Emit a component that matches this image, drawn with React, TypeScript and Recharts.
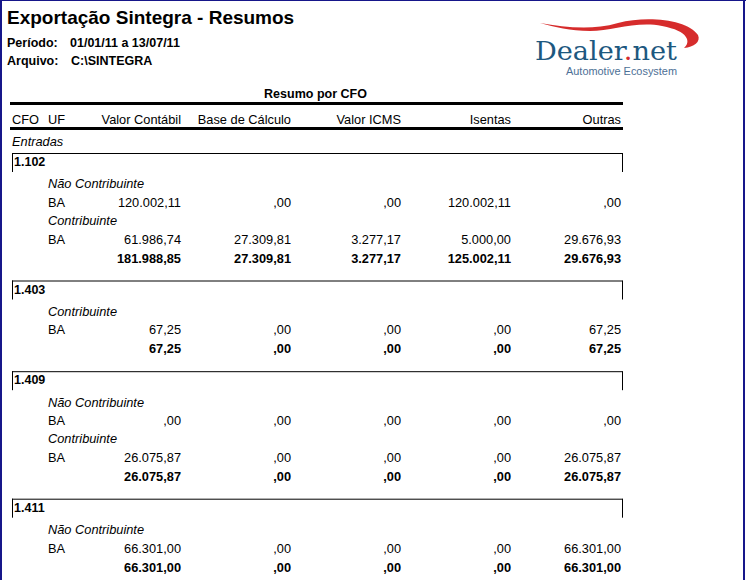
import React from "react";
import { ScatterChart, Scatter, XAxis, YAxis, ReferenceLine, Customized } from "recharts";

// report header
const title = "Exportação Sintegra - Resumos";
const periodo = "01/01/11 a 13/07/11";
const arquivo = "C:\\SINTEGRA";
const sectionTitle = "Resumo por CFO";
const entradaLabel = "Entradas";

// table
const columns = ["CFO", "UF", "Valor Contábil", "Base de Cálculo", "Valor ICMS", "Isentas", "Outras"];
const cfoCodes = ["1.102", "1.403", "1.409", "1.411"];
const rowGroup = [0, 0, 1, 2, 2, 3];
const rowKind = ["Não Contribuinte", "Contribuinte", "Contribuinte", "Não Contribuinte", "Contribuinte", "Não Contribuinte"];
const rowUF = ["BA", "BA", "BA", "BA", "BA", "BA"];
const valorContabil = [120002.11, 61986.74, 67.25, 0, 26075.87, 66301.0];
const baseCalculo = [0, 27309.81, 0, 0, 0, 0];
const valorICMS = [0, 3277.17, 0, 0, 0, 0];
const isentas = [120002.11, 5000.0, 0, 0, 0, 0];
const outras = [0, 29676.93, 67.25, 0, 26075.87, 66301.0];

const valueSeries = [valorContabil, baseCalculo, valorICMS, isentas, outras];

const W = 746;
const H = 580;
const FONT = "'Liberation Sans', Arial, sans-serif";
const NAVY = "#16168a";

// layout
const LEFT = 12;
const UF_X = 48;
const COL_RIGHT0 = 181;
const COL_STEP = 110;
const TABLE_RIGHT = 622;
const colRight = (i: number) => COL_RIGHT0 + i * COL_STEP;

function fmt(v: number) {
  const [i, d] = Math.abs(v).toFixed(2).split(".");
  const ip = i === "0" ? "" : i.replace(/\B(?=(\d{3})+(?!\d))/g, ".");
  return ip + "," + d;
}

type Mark = { x: number; y: number; text: string; anchor?: string };

const headMarks: Mark[] = [
  { x: LEFT, y: 119, text: columns[0], anchor: "start" },
  { x: UF_X, y: 119, text: columns[1], anchor: "start" },
  ...columns.slice(2).map((c, i) => ({ x: colRight(i), y: 119, text: c, anchor: "end" })),
];

const italicMarks: Mark[] = [{ x: LEFT, y: 141.5, text: entradaLabel, anchor: "start" }];
const cellMarks: Mark[] = [];
const totalMarks: Mark[] = [];
const codeMarks: Mark[] = [];
const boxTops: number[] = [];

let prevTotal = 0;
cfoCodes.forEach((code, g) => {
  const boxTop = g === 0 ? 153 : prevTotal + 22.5;
  boxTops.push(boxTop);
  codeMarks.push({ x: LEFT + 2, y: boxTop + 8.5, text: code, anchor: "start" });
  let line = boxTop + 30.8;
  let last = line;
  const rows = rowGroup.map((rg, i) => (rg === g ? i : -1)).filter((i) => i >= 0);
  rows.forEach((r) => {
    italicMarks.push({ x: UF_X, y: line, text: rowKind[r], anchor: "start" });
    const dy = line + 18.4;
    cellMarks.push({ x: UF_X, y: dy, text: rowUF[r], anchor: "start" });
    valueSeries.forEach((s, c) => cellMarks.push({ x: colRight(c), y: dy, text: fmt(s[r]), anchor: "end" }));
    last = dy;
    line = dy + 18.4;
  });
  const ty = last + 19;
  valueSeries.forEach((s, c) => {
    const sum = rows.reduce((a, r) => a + s[r], 0);
    totalMarks.push({ x: colRight(c), y: ty, text: fmt(sum), anchor: "end" });
  });
  prevTotal = ty;
});

const titleMarks: Mark[] = [{ x: 7, y: 17, text: title, anchor: "start" }];
const subMarks: Mark[] = [
  { x: 7, y: 42.5, text: "Período:", anchor: "start" },
  { x: 70, y: 42.5, text: periodo, anchor: "start" },
  { x: 7, y: 60, text: "Arquivo:", anchor: "start" },
  { x: 71, y: 60, text: arquivo, anchor: "start" },
  { x: 315.5, y: 93.5, text: sectionTitle, anchor: "middle" },
];

const textShape = (style: React.CSSProperties) => (props: any) => {
  const p = props.payload as Mark;
  return (
    <text x={props.cx} y={props.cy} dy="0.36em" textAnchor={p.anchor || "start"} fill="#000" style={{ fontFamily: FONT, ...style }}>
      {p.text}
    </text>
  );
};

function Logo() {
  return (
    <g>
      <path
        d="M540,23 C565,27 590,31 618,23 C648,15 688,20 698,35 C701,42 694,47 684,48 C691,42 689,31 662,26 C636,21 612,31 590,31 C570,31 555,27 540,23 Z"
        fill="#d62c2c"
      />
      <text x={535} y={59.5} textLength={142} lengthAdjust="spacingAndGlyphs" style={{ fontFamily: "'DejaVu Serif', serif", fontSize: 26 }} fill="#1d587f">
        Dealer<tspan fill="#d62c2c">.</tspan>net
      </text>
      <text x={566} y={75} textLength={111} lengthAdjust="spacingAndGlyphs" style={{ fontFamily: FONT, fontSize: 10 }} fill="#4d6f96">
        Automotive Ecosystem
      </text>
    </g>
  );
}

export default function App() {
  return (
    <div style={{ position: "absolute", left: 0, top: 0, width: W, height: H, background: "#fff", overflow: "hidden" }}>
      <ScatterChart width={W} height={H} margin={{ top: 0, right: 0, bottom: 0, left: 0 }}>
        <XAxis type="number" dataKey="x" domain={[0, W]} allowDataOverflow hide />
        <YAxis type="number" dataKey="y" domain={[0, H]} allowDataOverflow reversed hide />
        <ReferenceLine segment={[{ x: 10, y: 103.5 }, { x: 623, y: 103.5 }]} stroke="#000" strokeWidth={3} ifOverflow="visible" />
        <ReferenceLine segment={[{ x: 10, y: 128.5 }, { x: 623, y: 128.5 }]} stroke="#000" strokeWidth={3} ifOverflow="visible" />
        {boxTops.map((t, i) => (
          <ReferenceLine key={"h" + i} segment={[{ x: LEFT, y: t + 0.5 }, { x: TABLE_RIGHT + 0.5, y: t + 0.5 }]} stroke="#000" strokeWidth={1} ifOverflow="visible" />
        ))}
        {boxTops.map((t, i) => (
          <ReferenceLine key={"l" + i} segment={[{ x: LEFT + 0.5, y: t }, { x: LEFT + 0.5, y: t + 19 }]} stroke="#000" strokeWidth={1} ifOverflow="visible" />
        ))}
        {boxTops.map((t, i) => (
          <ReferenceLine key={"r" + i} segment={[{ x: TABLE_RIGHT + 0.5, y: t }, { x: TABLE_RIGHT + 0.5, y: t + 19 }]} stroke="#000" strokeWidth={1} ifOverflow="visible" />
        ))}
        <Scatter data={titleMarks} isAnimationActive={false} shape={textShape({ fontSize: 19, fontWeight: 700 })} />
        <Scatter data={subMarks} isAnimationActive={false} shape={textShape({ fontSize: 12.5, fontWeight: 700 })} />
        <Scatter data={headMarks} isAnimationActive={false} shape={textShape({ fontSize: 12.8 })} />
        <Scatter data={italicMarks} isAnimationActive={false} shape={textShape({ fontSize: 12.8, fontStyle: "italic" })} />
        <Scatter data={codeMarks} isAnimationActive={false} shape={textShape({ fontSize: 12.5, fontWeight: 700 })} />
        <Scatter data={cellMarks} isAnimationActive={false} shape={textShape({ fontSize: 12.8 })} />
        <Scatter data={totalMarks} isAnimationActive={false} shape={textShape({ fontSize: 12.8, fontWeight: 700 })} />
        <Customized component={Logo} />
      </ScatterChart>
      <div style={{ position: "absolute", left: 0, top: 0, width: 2, height: H, background: NAVY }} />
      <div style={{ position: "absolute", left: 0, top: 0, width: W, height: 1, background: NAVY }} />
      <div style={{ position: "absolute", left: 743, top: 0, width: 2, height: H, background: NAVY }} />
    </div>
  );
}
